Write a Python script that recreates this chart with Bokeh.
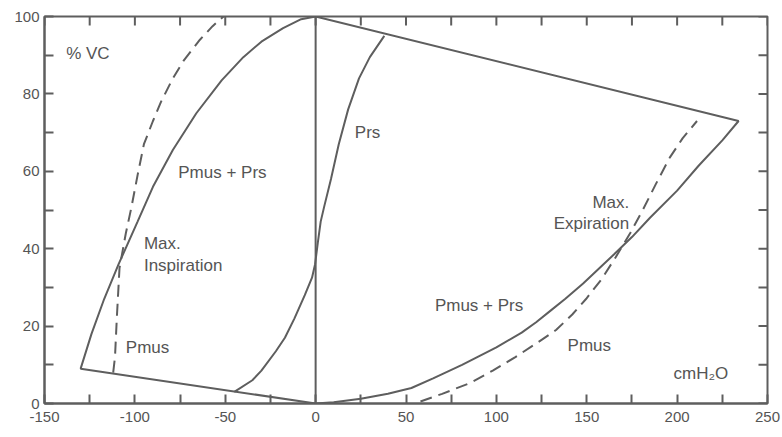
from bokeh.plotting import figure
from bokeh.models import LinearAxis, FixedTicker, Label
from bokeh.embed import file_html
from bokeh.resources import INLINE

# ---- data ----
# outer loop, left side: bottom line from (0,0) to lower-left corner, then maximal inspiration curve up to (0,100)
insp_x = [0, -130, -124, -117, -109, -98.5, -90, -79, -66, -52, -40, -30, -18, -8, 0]
insp_y = [0, 9, 18, 27, 36, 47, 56, 65.5, 75, 83.5, 89.5, 93.5, 97, 99.3, 100]
# outer loop, right side: top line to the right corner, then maximal expiration curve down to (0,0)
exp_x = [0, 234, 225, 212, 200, 185, 175, 165, 148, 138, 130, 122, 114, 100, 81, 65, 53, 40, 25, 10, 0]
exp_y = [100, 73, 68, 61.5, 55, 48, 43, 38.5, 31, 27, 24, 21, 18.3, 14.5, 10, 6.5, 4, 2.5, 1.2, 0.3, 0]
# Pmus (inspiration), dashed
pmus_in_x = [-112, -111, -110, -108.5, -105, -102, -98.5, -95, -90, -85.5, -79, -73, -64, -57, -51]
pmus_in_y = [8, 12, 22, 35, 44, 50.5, 59, 67, 73, 78, 84, 88.6, 94, 97.5, 100]
# Pmus (expiration), dashed
pmus_ex_x = [58, 70, 85, 98, 110.5, 122, 133, 142, 149.6, 158, 166, 174, 181, 188, 196, 203, 211]
pmus_ex_y = [0.5, 2.5, 5.2, 8.5, 12, 15.5, 19, 23, 27, 32, 37.8, 44, 50, 56.5, 63.6, 68.5, 73]
# Prs (relaxation) curve
prs_x = [-45, -35, -30, -22, -17, -11.7, -6, -2, -0.3, 1.2, 2.8, 4.8, 8.5, 12.8, 18, 24, 30, 38]
prs_y = [3, 6, 8.5, 13.5, 17, 22, 28, 32.5, 36, 41.5, 47, 51, 58, 67, 76, 84, 89.5, 95]
# zero-pressure line
zero_x = [0, 0]
zero_y = [0, 100]

# axis ticks and labels
x_ticks = [-150, -125, -100, -75, -50, -25, 0, 25, 50, 75, 100, 125, 150, 175, 200, 225, 250]
x_tick_labels = ["-150", "", "-100", "", "-50", "", "0", "", "50", "", "100", "", "150", "", "200", "", "250"]
y_ticks = [0, 10, 20, 30, 40, 50, 60, 70, 80, 90, 100]
y_tick_labels = ["0", "", "20", "", "40", "", "60", "", "80", "", "100"]

# annotations
labels_txt = ["% VC", "Pmus + Prs", "Max.", "Inspiration", "Pmus", "Prs",
              "Pmus + Prs", "Max.", "Expiration", "Pmus", "cmH\u2082O"]
labels_x = [-138, -76, -95, -95, -105, 21.7, 66, 173.5, 173.5, 139.4, 198]
labels_y = [90.4, 59.7, 41.3, 35.7, 14.5, 70, 25.3, 52, 46.5, 15, 7.8]
labels_align = ["left", "left", "left", "left", "left", "left", "left", "right", "right", "left", "left"]

LINE = "#5e5e5e"
TEXT = "#555555"
FONT = "Liberation Sans"

X0, X1 = -150, 250
Y0, Y1 = 0, 100
W, H = 782, 437
ML, MR, MT, MB = 44, 15, 16, 34

p = figure(width=W, height=H, x_range=(X0, X1), y_range=(Y0, Y1),
           output_backend="svg", toolbar_location=None,
           min_border_left=ML, min_border_right=MR, min_border_top=MT, min_border_bottom=MB,
           x_axis_location=None, y_axis_location=None)
p.xgrid.visible = False
p.ygrid.visible = False
p.outline_line_color = LINE
p.outline_line_width = 2
p.background_fill_color = "white"
p.border_fill_color = "white"

TICK_PX = 9


def style_axis(ax):
    ax.axis_line_color = LINE
    ax.axis_line_width = 2
    ax.major_tick_line_color = LINE
    ax.major_tick_line_width = 2
    ax.major_tick_in = TICK_PX
    ax.major_tick_out = 0
    ax.minor_tick_line_color = None
    ax.major_label_text_font = FONT
    ax.major_label_text_font_size = "15px"
    ax.major_label_text_color = TEXT


xb = LinearAxis(ticker=FixedTicker(ticks=x_ticks, minor_ticks=[]),
                major_label_overrides={t: s for t, s in zip(x_ticks, x_tick_labels)})
style_axis(xb)
xb.major_label_standoff = 8
p.add_layout(xb, "below")

yl = LinearAxis(ticker=FixedTicker(ticks=y_ticks, minor_ticks=[]),
                major_label_overrides={t: s for t, s in zip(y_ticks, y_tick_labels)})
style_axis(yl)
yl.major_label_standoff = 5
p.add_layout(yl, "left")

# inward tick marks on the top and right frame edges
dx = TICK_PX * (X1 - X0) / (W - ML - MR)
dy = TICK_PX * (Y1 - Y0) / (H - MT - MB)
TK = dict(line_color=LINE, line_width=2)
nx, ny = len(x_ticks), len(y_ticks)
p.segment(x_ticks, [Y1] * nx, x_ticks, [Y1 - dy] * nx, **TK)
p.segment([X1] * ny, y_ticks, [X1 - dx] * ny, y_ticks, **TK)

p.line(insp_x, insp_y, line_color=LINE, line_width=2)
p.line(exp_x, exp_y, line_color=LINE, line_width=2)
p.line(prs_x, prs_y, line_color=LINE, line_width=2)
p.line(zero_x, zero_y, line_color=LINE, line_width=2)
p.line(pmus_in_x, pmus_in_y, line_color=LINE, line_width=2, line_dash="12 7")
p.line(pmus_ex_x, pmus_ex_y, line_color=LINE, line_width=2, line_dash="12 7")

for t, x, y, a in zip(labels_txt, labels_x, labels_y, labels_align):
    p.add_layout(Label(x=x, y=y, text=t, text_align=a, text_baseline="middle",
                       text_font=FONT, text_font_size="17px", text_color=TEXT))

open("out.html", "w").write(file_html(p, INLINE))
